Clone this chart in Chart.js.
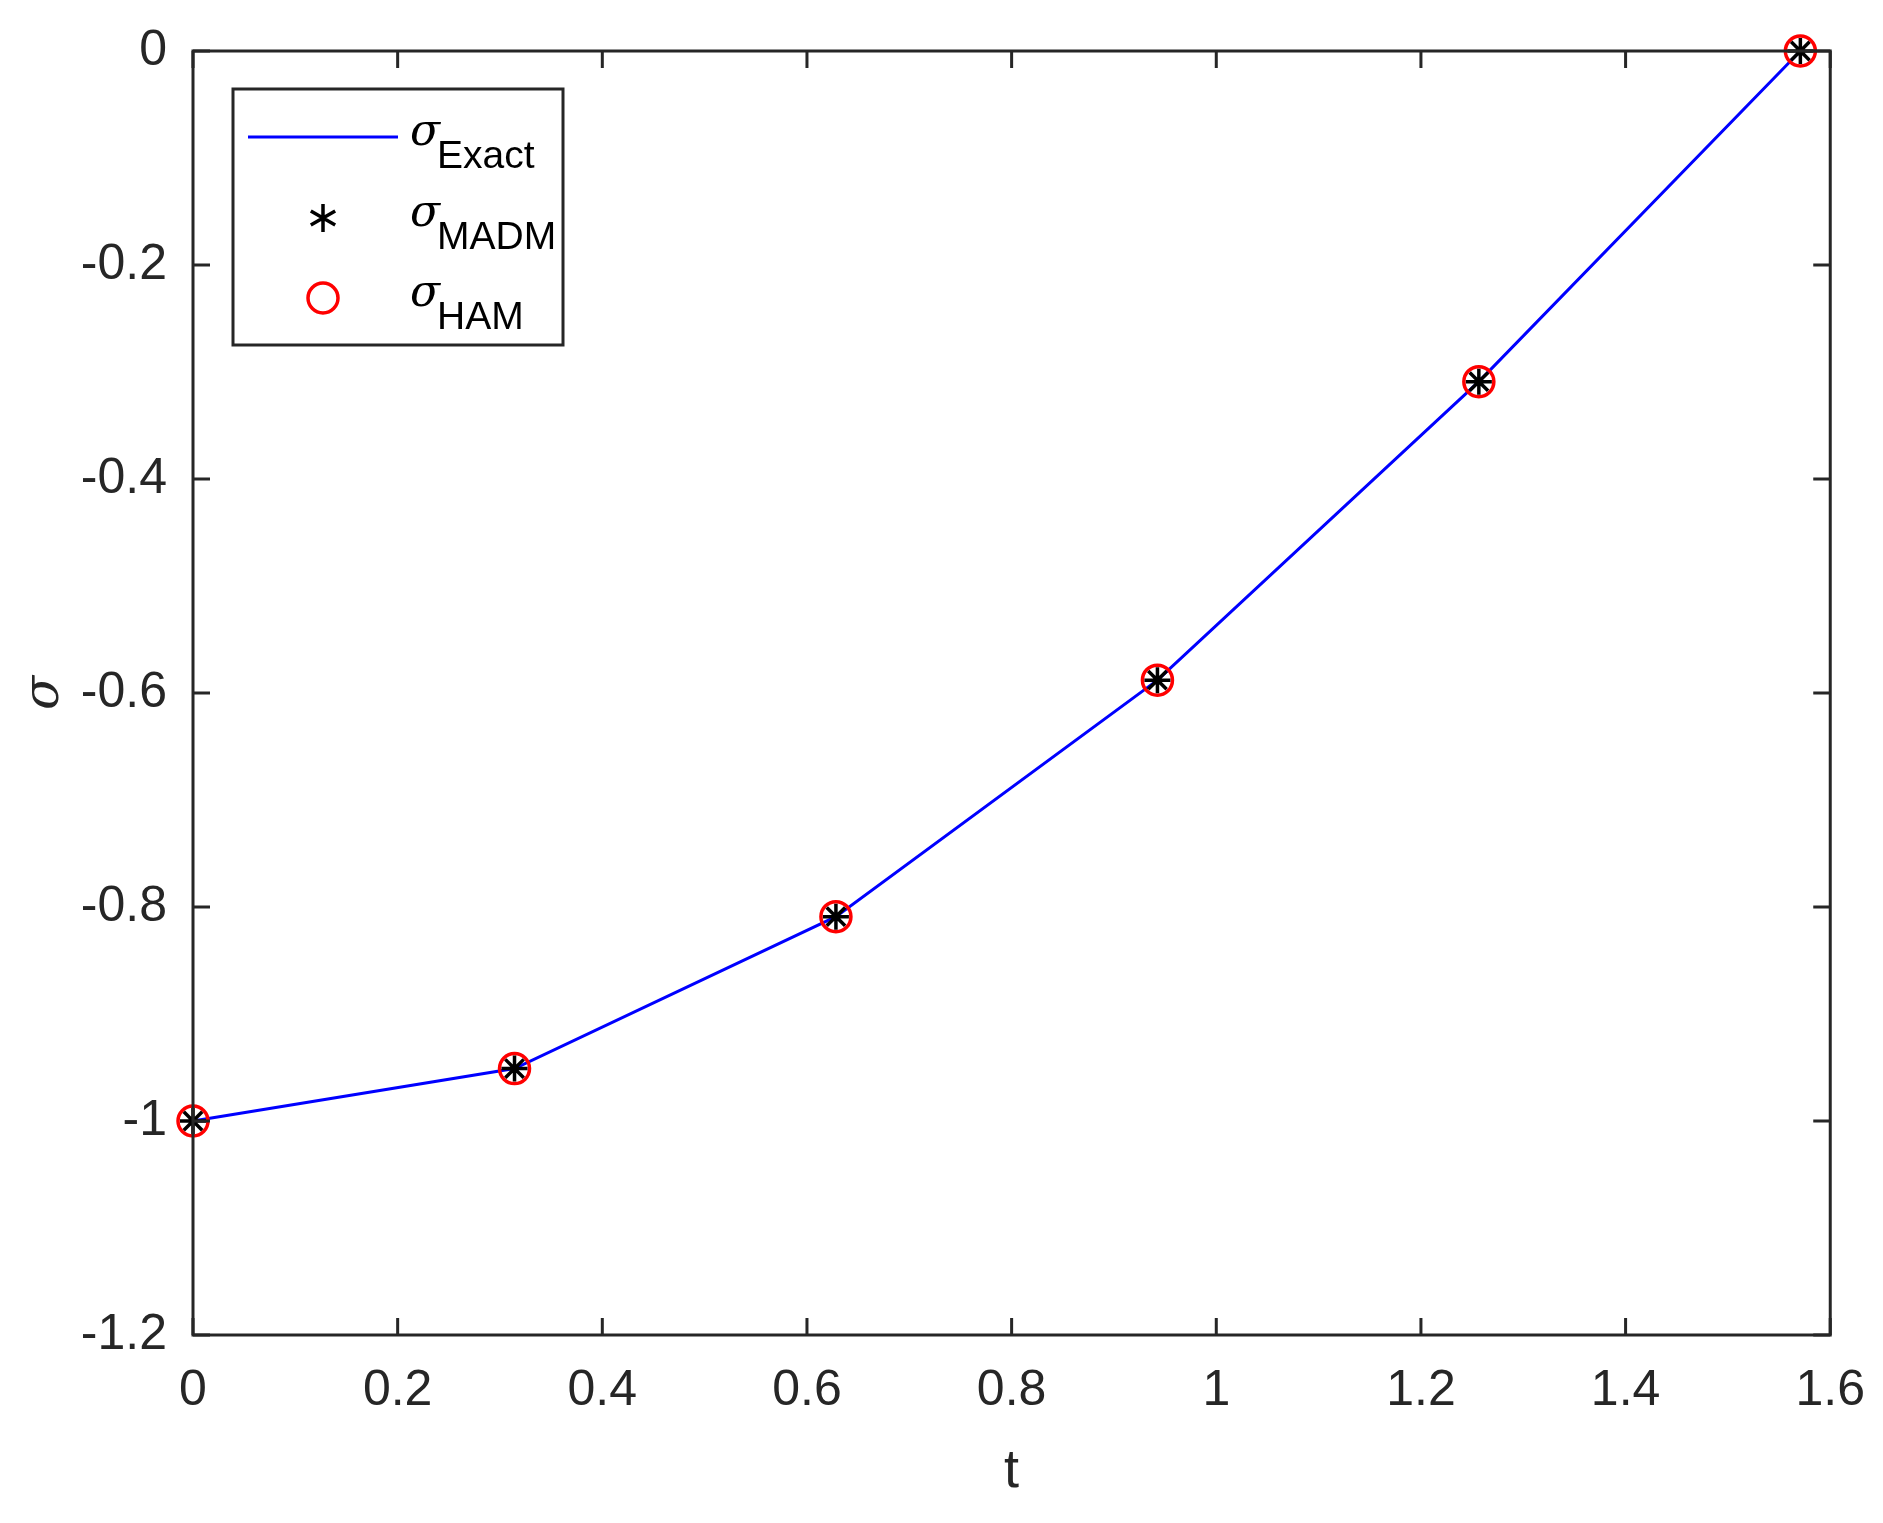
<!DOCTYPE html>
<html><head><meta charset="utf-8">
<script src="https://cdn.jsdelivr.net/npm/chart.js"></script>
<style>html,body{margin:0;padding:0;background:#fff}#wrap{width:1883px;height:1523px}</style>
</head><body><div id="wrap"><canvas id="c"></canvas></div>
<script>
const tValues = [0, 0.3142, 0.6283, 0.9425, 1.2566, 1.5708];
const sigmaExact = [-1, -0.951, -0.809, -0.588, -0.309, 0];
const sigmaMADM = [-1, -0.951, -0.809, -0.588, -0.309, 0];
const sigmaHAM = [-1, -0.951, -0.809, -0.588, -0.309, 0];
const xTicks = [0, 0.2, 0.4, 0.6, 0.8, 1, 1.2, 1.4, 1.6];
const yTicks = [-1.2, -1, -0.8, -0.6, -0.4, -0.2, 0];
const legendNames = [['\u03c3','Exact'],['\u03c3','MADM'],['\u03c3','HAM']];

const pts = a => tValues.map((t,i)=>({x:t,y:a[i]}));
const FONT = '"Liberation Sans", Arial, sans-serif';
const TXT = '#262626';

const frame = {
  id:'frame',
  afterDraw(chart){
    const {ctx, chartArea:a, scales:{x,y}} = chart;
    ctx.save();
    ctx.strokeStyle = TXT; ctx.lineWidth = 3;
    ctx.strokeRect(a.left, a.top, a.right-a.left, a.bottom-a.top);
    const L = 17;
    ctx.beginPath();
    xTicks.forEach(v=>{const p=x.getPixelForValue(v);
      ctx.moveTo(p,a.bottom);ctx.lineTo(p,a.bottom-L);ctx.moveTo(p,a.top);ctx.lineTo(p,a.top+L);});
    yTicks.forEach(v=>{const p=y.getPixelForValue(v);
      ctx.moveTo(a.left,p);ctx.lineTo(a.left+L,p);ctx.moveTo(a.right,p);ctx.lineTo(a.right-L,p);});
    ctx.stroke();
    ctx.fillStyle = TXT;
    ctx.font = '54px '+FONT; ctx.textAlign='center'; ctx.textBaseline='alphabetic';
    ctx.fillText('t', (a.left+a.right)/2, 1487);
    ctx.save(); ctx.translate(58, (a.top+a.bottom)/2); ctx.rotate(-Math.PI/2);
    ctx.font = 'italic 50px "DejaVu Serif", serif'; ctx.fillText('\u03c3',0,0); ctx.restore();
    const lx=233, ly=89, lw=330, lh=256;
    ctx.fillStyle='#fff'; ctx.fillRect(lx,ly,lw,lh);
    ctx.strokeStyle=TXT; ctx.lineWidth=3; ctx.strokeRect(lx,ly,lw,lh);
    const rows=[137,218,298];
    ctx.strokeStyle='#0000ff'; ctx.lineWidth=3;
    ctx.beginPath(); ctx.moveTo(248,rows[0]); ctx.lineTo(398,rows[0]); ctx.stroke();
    const sx=323, sy=rows[1], r=14;
    ctx.strokeStyle='#000'; ctx.lineWidth=3.5; ctx.beginPath();
    ctx.moveTo(sx,sy-r);ctx.lineTo(sx,sy+r);
    ctx.moveTo(sx-r*0.87,sy-r*0.5);ctx.lineTo(sx+r*0.87,sy+r*0.5);
    ctx.moveTo(sx-r*0.87,sy+r*0.5);ctx.lineTo(sx+r*0.87,sy-r*0.5);
    ctx.stroke();
    ctx.strokeStyle='#ff0000'; ctx.lineWidth=3.5; ctx.beginPath(); ctx.arc(323,rows[2],15,0,Math.PI*2); ctx.stroke();
    ctx.fillStyle='#000'; ctx.textAlign='left';
    legendNames.forEach((n,i)=>{
      ctx.font='italic 44px "DejaVu Serif", serif'; ctx.fillText(n[0],410,rows[i]+8);
      ctx.font='39px '+FONT; ctx.fillText(n[1],437,rows[i]+31);
    });
    ctx.restore();
  }
};

new Chart(document.getElementById('c'), {
  type:'scatter',
  data:{datasets:[
    {label:'Exact', data:pts(sigmaExact), showLine:true, borderColor:'#0000ff', borderWidth:3, pointRadius:0, order:3, clip:false},
    {label:'HAM', data:pts(sigmaHAM), showLine:false, pointStyle:'circle', pointRadius:15, borderColor:'#ff0000', backgroundColor:'rgba(0,0,0,0)', pointBorderWidth:3.5, order:2, clip:false},
    {label:'MADM', data:pts(sigmaMADM), showLine:false, pointStyle:'star', pointRadius:13, borderColor:'#000', pointBorderWidth:3.5, order:1, clip:false}
  ]},
  options:{
    responsive:true, maintainAspectRatio:false, animation:false, devicePixelRatio:1,
    layout:{padding:{top:51,right:52,left:0,bottom:0}},
    plugins:{legend:{display:false}, tooltip:{enabled:false}},
    scales:{
      x:{type:'linear', min:0, max:1.6, afterBuildTicks:s=>{s.ticks=xTicks.map(v=>({value:v}));},
        afterFit:s=>{s.height=188;},
        grid:{display:false}, border:{display:false},
        ticks:{color:TXT, font:{family:FONT,size:50}, padding:18, maxRotation:0, callback:v=>String(v)}},
      y:{type:'linear', min:-1.2, max:0, afterBuildTicks:s=>{s.ticks=yTicks.map(v=>({value:v}));},
        afterFit:s=>{s.width=193;},
        grid:{display:false}, border:{display:false},
        ticks:{color:TXT, font:{family:FONT,size:50}, padding:18, callback:v=>String(v)}}
    }
  },
  plugins:[frame]
});
</script></body></html>
